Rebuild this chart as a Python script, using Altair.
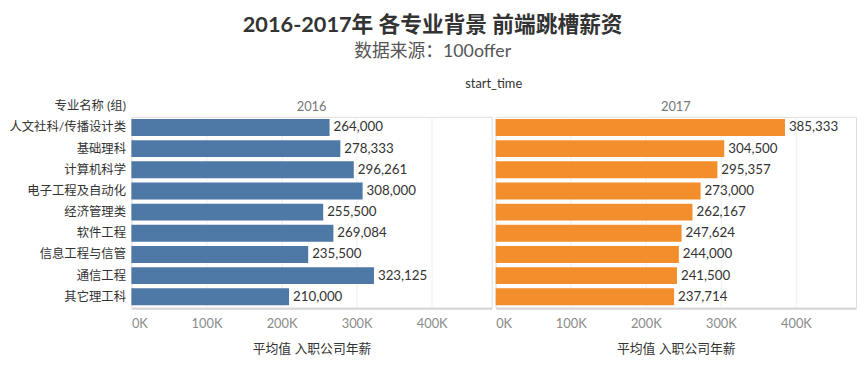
import altair as alt
import pandas as pd

categories = ["人文社科/传播设计类", "基础理科", "计算机科学", "电子工程及自动化",
              "经济管理类", "软件工程", "信息工程与信管", "通信工程", "其它理工科"]
years = ["2016", "2017"]
values_2016 = [264000, 278333, 296261, 308000, 255500, 269084, 235500, 323125, 210000]
values_2017 = [385333, 304500, 295357, 273000, 262167, 247624, 244000, 241500, 237714]
tick_values = [0, 100000, 200000, 300000, 400000]
colors = ["#4e79a7", "#f28e2b"]

rows = []
for c, v in zip(categories, values_2016):
    rows.append({"专业": c, "start_time": "2016", "salary": v})
for c, v in zip(categories, values_2017):
    rows.append({"专业": c, "start_time": "2017", "salary": v})
df = pd.DataFrame(rows)

FONT = "Lato, 'Noto Sans CJK SC', sans-serif"

base = alt.Chart().encode(
    y=alt.Y("专业:N", sort=categories,
            scale=alt.Scale(paddingInner=0.2, paddingOuter=0.1),
            axis=alt.Axis(title="专业名称 (组)", titleAngle=0, titleAlign="right",
                          titleX=-5, titleY=-11, titleBaseline="middle",
                          titleFontSize=12.5, titleFontWeight="normal", titleColor="#333",
                          labelFontSize=12.5, labelColor="#333", ticks=False,
                          domain=False, labelPadding=5, labelFont=FONT, titleFont=FONT)),
    x=alt.X("salary:Q", scale=alt.Scale(domain=[0, 480000], nice=False, zero=True),
            axis=alt.Axis(title="平均值 入职公司年薪", values=tick_values,
                          labelExpr="datum.value/1000 + 'K'", labelFlush=True,
                          labelColor="#8a8a8a", labelFontSize=13, labelPadding=9,
                          titleFontSize=13, titleFontWeight="normal", titleColor="#333",
                          titlePadding=13, ticks=False, grid=True, gridColor="#efefef",
                          domainColor="#d4d4d4", domainWidth=2,
                          labelFont=FONT, titleFont=FONT)),
)

bars = base.mark_bar().encode(
    color=alt.Color("start_time:N", scale=alt.Scale(domain=years, range=colors), legend=None)
)
text = base.mark_text(align="left", dx=4, fontSize=13.5, color="#333", font=FONT).encode(
    text=alt.Text("salary:Q", format=",")
)

chart = alt.layer(bars, text, data=df).properties(width=365, height=193).facet(
    column=alt.Column("start_time:N", title="start_time",
                      header=alt.Header(titleFontSize=13, titleFontWeight="normal",
                                        titleColor="#333", titleFont=FONT, titlePadding=0,
                                        labelFontSize=13, labelColor="#777", labelFont=FONT,
                                        labelPadding=2)),
    spacing=2,
).properties(
    title=alt.TitleParams("2016-2017年 各专业背景 前端跳槽薪资", subtitle="数据来源：100offer",
                          anchor="middle", fontSize=22, fontWeight="bold", color="#333",
                          font=FONT, subtitleFont=FONT, subtitleFontSize=18,
                          subtitleColor="#555", subtitlePadding=6, offset=17),
).configure_view(stroke="#e0e0e0").configure(padding={"left": 0, "top": 4, "right": 0, "bottom": 0})

chart.save("out.html", embed_options={"renderer": "svg", "actions": False})
